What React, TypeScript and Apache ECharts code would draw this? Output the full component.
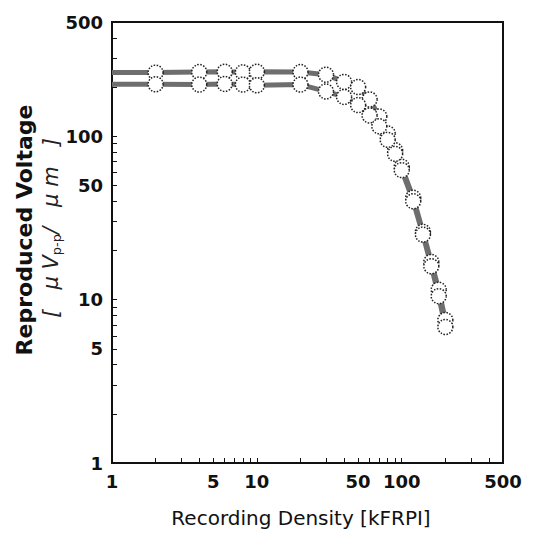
import React, { useEffect, useRef } from "react";
import * as echarts from "echarts";

const density = [1, 2, 4, 6, 8, 10, 20, 30, 40, 50, 60, 70, 80, 90, 100, 120, 140, 160, 180, 200];
const upperVoltage = [245, 245, 247, 248, 246, 248, 247, 238, 215, 200, 168, 132, 104, 82, 65, 42, 26, 17, 11.5, 7.5];
const lowerVoltage = [208, 208, 207, 209, 207, 205, 207, 188, 174, 155, 134, 115, 95, 78, 62, 40, 25, 16, 10.5, 6.8];
const labelValues = [1, 5, 10, 50, 100, 500];
const tickValues = [1, 2, 3, 4, 5, 6, 7, 8, 9, 10, 20, 30, 40, 50, 60, 70, 80, 90, 100, 200, 300, 400, 500];

const toData = (ys: number[]) =>
  density.map((x, i) => (i === 0 ? { value: [x, ys[i]], symbol: "none" } : { value: [x, ys[i]] }));

export default function App() {
  const ref = useRef<HTMLDivElement>(null);
  useEffect(() => {
    const chart = echarts.init(ref.current!, null, { renderer: "svg" });
    const labelStyle = {
      fontFamily: "DejaVu Sans",
      fontWeight: "bold" as const,
      fontSize: 18,
      color: "#111",
    };
    const lineSeries = (name: string, ys: number[]) => ({
      name,
      type: "line",
      data: toData(ys),
      symbol: "circle",
      symbolSize: 15,
      lineStyle: { color: "#6e6e6e", width: 5 },
      itemStyle: { color: "#fff", borderColor: "#222", borderWidth: 1.5, borderType: "dotted" },
      clip: true,
    });
    chart.setOption({
      animation: false,
      backgroundColor: "#fff",
      grid: { left: 112, top: 22, width: 391, height: 441, show: true, borderColor: "#111", borderWidth: 2 },
      xAxis: {
        type: "log",
        logBase: 10,
        min: 1,
        max: 500,
        axisLine: { show: true, lineStyle: { color: "#111", width: 2 } },
        axisTick: { show: true, inside: true, length: 5, customValues: tickValues, lineStyle: { color: "#111" } },
        minorTick: { show: false },
        splitLine: { show: false },
        axisLabel: {
          ...labelStyle,
          margin: 9,
          customValues: labelValues,
          formatter: (v: number) => String(Math.round(v)),
        },
      },
      yAxis: {
        type: "log",
        logBase: 10,
        min: 1,
        max: 500,
        axisLine: { show: true, lineStyle: { color: "#111", width: 2 } },
        axisTick: { show: true, inside: true, length: 5, customValues: tickValues, lineStyle: { color: "#111" } },
        minorTick: { show: false },
        splitLine: { show: false },
        axisLabel: {
          ...labelStyle,
          margin: 9,
          customValues: labelValues,
          formatter: (v: number) => String(Math.round(v)),
        },
      },
      series: [lineSeries("upper", upperVoltage), lineSeries("lower", lowerVoltage)],
      graphic: [
        {
          type: "text",
          x: 24,
          y: 230,
          rotation: Math.PI / 2,
          style: {
            text: "Reproduced Voltage",
            font: "bold 22px 'DejaVu Sans'",
            fill: "#111",
            align: "center",
            verticalAlign: "middle",
          },
        },
        {
          type: "text",
          x: 51,
          y: 228,
          rotation: Math.PI / 2,
          style: {
            text: "{b|[   μ V}{s|p-p}{b|/   μ m   ]}",
            align: "center",
            verticalAlign: "middle",
            rich: {
              b: { fontFamily: "DejaVu Sans", fontSize: 21, fontStyle: "italic", fill: "#222", lineHeight: 24, verticalAlign: "middle" },
              s: { fontFamily: "DejaVu Sans", fontSize: 13, fill: "#222", lineHeight: 24, verticalAlign: "bottom", padding: [9, 0, 0, 0] },
            },
          },
        },
        {
          type: "text",
          x: 301,
          y: 518,
          style: {
            text: "Recording Density [kFRPI]",
            font: "20px 'DejaVu Sans'",
            fill: "#111",
            align: "center",
            verticalAlign: "middle",
          },
        },
      ],
    });
    return () => chart.dispose();
  }, []);
  return <div ref={ref} style={{ position: "absolute", left: 0, top: 0, width: 533, height: 541 }} />;
}
